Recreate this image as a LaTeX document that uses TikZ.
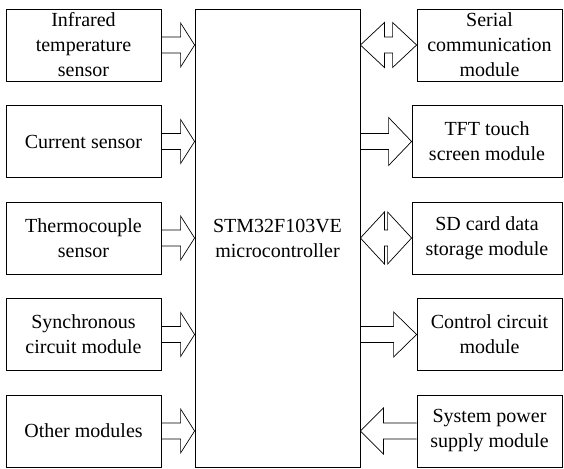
\documentclass[tikz,border=0pt]{standalone}
\usepackage{fontspec}
\setmainfont{Liberation Serif}
\usetikzlibrary{calc}

% block arrow from #1 to #2, head length #3 (signed), head half height #4
\newcommand{\fatarrow}[4]{%
  \draw[blockarrow] let \p1=(#1), \p2=(#2) in
    (\x1,\y1+8) -- ({\x2-(#3)},\y1+8) -- ({\x2-(#3)},\y1+#4) -- (\x2,\y1)
    -- ({\x2-(#3)},\y1-#4) -- ({\x2-(#3)},\y1-8) -- (\x1,\y1-8);
}
% double block arrow between #1 and #2
\newcommand{\dblarrow}[4]{%
  \draw[blockarrow] let \p1=(#1), \p2=(#2) in
    (\x1,\y1) -- ({\x1+#3},\y1+#4) -- ({\x1+#3},\y1+8) -- ({\x2-#3},\y1+8)
    -- ({\x2-#3},\y1+#4) -- (\x2,\y1) -- ({\x2-#3},\y1-#4) -- ({\x2-#3},\y1-8)
    -- ({\x1+#3},\y1-8) -- ({\x1+#3},\y1-#4) -- cycle;
}

\begin{document}
\begin{tikzpicture}[
  x=1pt, y=-1pt,
  font=\fontsize{20}{25}\selectfont,
  box/.style={draw, line width=0.8pt, minimum height=72pt, align=center, inner sep=0pt},
  sensor/.style={box, minimum width=155pt},
  module/.style={box, minimum width=145pt},
  wide/.style={box, minimum width=150pt},
  mcubox/.style={box, minimum width=165pt, minimum height=458pt},
  blockarrow/.style={line width=0.7pt, line join=miter},
]
\useasboundingbox (0,0) rectangle (564,468);

% ===== inputs =====
\node[sensor] (s1) at (83.5,45) {Infrared\\temperature\\sensor};
\node[sensor] (s2) at (83.5,141.5) {Current sensor};
\node[sensor] (s3) at (83.5,238) {Thermocouple\\sensor};
\node[sensor] (s4) at (83.5,334.5) {Synchronous\\circuit module};
\node[sensor] (s5) at (83.5,431) {Other modules};

% ===== controller =====
\node[mcubox] (mcu) at (277.5,238) {STM32F103VE\\microcontroller};

% ===== outputs =====
\node[module] (m1) at (489.5,45) {Serial\\communication\\module};
\node[wide] (m2) at (487,141.5) {TFT touch\\screen module};
\node[wide] (m3) at (487,238) {SD card data\\storage module};
\node[module] (m4) at (489.5,334.5) {Control circuit\\module};
\node[module] (m5) at (489.5,431) {System power\\supply module};

% ===== arrows =====
\foreach \i in {1,...,5}
  \fatarrow{s\i.east}{s\i.east -| mcu.west}{14}{22};

\dblarrow{mcu.east |- m1.west}{m1.west}{24}{22.5}
\fatarrow{mcu.east |- m2.west}{m2.west}{23}{24}
\dblarrow{mcu.east |- m3.west}{m3.west}{24}{26}
\fatarrow{mcu.east |- m4.west}{m4.west}{23}{22.5}
\fatarrow{m5.west}{m5.west -| mcu.east}{-23}{23}

\end{tikzpicture}
\end{document}
